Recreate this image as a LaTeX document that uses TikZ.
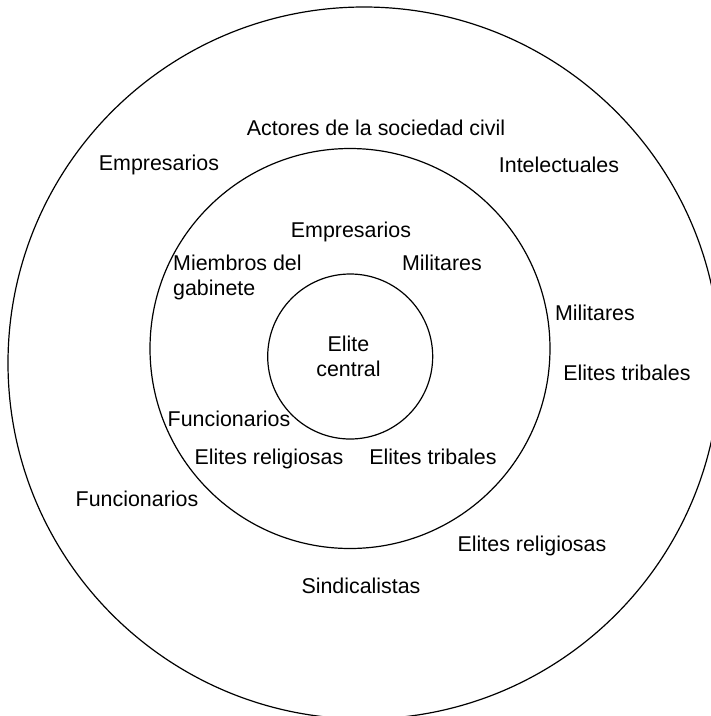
\documentclass[tikz,border=0pt]{standalone}
\usepackage{fontspec}
\setmainfont{Liberation Sans}
\begin{document}
\begin{tikzpicture}[x=1pt,y=-1pt,
  ring/.style={circle, draw, line width=1.2pt, inner sep=0pt},
  lbl/.style={anchor=base, inner sep=0pt, font=\fontsize{21.4}{25}\selectfont}]
\useasboundingbox (0,0) rectangle (711,716);
% circles
\node[ring, minimum size=712pt] (outer) at (364,363) {};
\node[ring, minimum size=400pt] (middle) at (350,348.5) {};
\node[ring, minimum size=165pt] (inner) at (350.2,356.5) {};
% inner
\node[lbl] (ec1) at (348.5,351.7) {Elite};
\node[lbl] (ec2) at (348.5,376.7) {central};
% middle ring
\node[lbl] (memp) at (351,237) {Empresarios};
\node[lbl, anchor=base west] (mmie1) at (173,270) {Miembros del};
\node[lbl, anchor=base west] (mmie2) at (173,295) {gabinete};
\node[lbl] (mmil) at (442,270) {Militares};
\node[lbl] (mfun) at (229,426) {Funcionarios};
\node[lbl] (mrel) at (269,464) {Elites religiosas};
\node[lbl] (mtri) at (433,464) {Elites tribales};
% outer ring
\node[lbl] (oact) at (376,135) {Actores de la sociedad civil};
\node[lbl] (oemp) at (159,170) {Empresarios};
\node[lbl] (oint) at (559,172) {Intelectuales};
\node[lbl] (omil) at (595,320) {Militares};
\node[lbl] (otri) at (627,380) {Elites tribales};
\node[lbl] (ofun) at (137,506) {Funcionarios};
\node[lbl] (orel) at (532,551) {Elites religiosas};
\node[lbl] (osin) at (361,593) {Sindicalistas};
\end{tikzpicture}
\end{document}
